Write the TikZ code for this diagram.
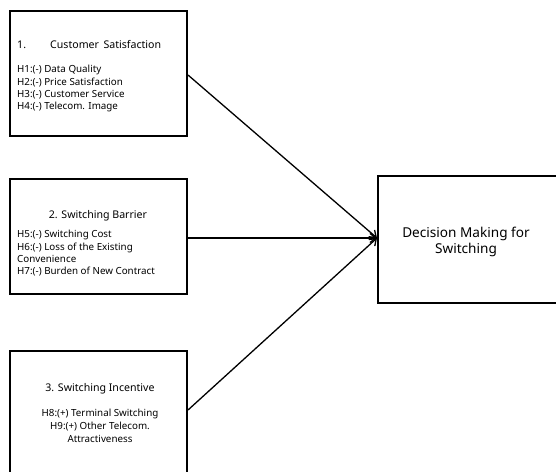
\documentclass[tikz,border=0pt]{standalone}
\usepackage{fontspec}
\setmainfont{Noto Sans}
\usetikzlibrary{arrows.meta,calc}
\begin{document}
\begin{tikzpicture}[x=1pt,y=-1pt,
  box/.style={draw,line width=2pt,rectangle,inner sep=0pt,anchor=north west},
  conn/.style={line width=1.3pt,-{Straight Barb[length=6pt,width=9pt,line width=1.3pt]}},
  small/.style={font=\fontsize{9.8}{12.4}\selectfont,inner sep=0pt},
  title/.style={font=\fontsize{10.6}{12}\selectfont,inner sep=0pt}]
\useasboundingbox (0,0) rectangle (556,471);
\clip (0,0) rectangle (556,471);
\node[box,minimum width=177pt,minimum height=125pt] (b1) at (9,10) {};
\node[box,minimum width=177pt,minimum height=115pt] (b2) at (9,178) {};
\node[box,minimum width=177pt,minimum height=124pt] (b3) at (9,350) {};
\node[box,minimum width=180pt,minimum height=127pt] (dm) at (377,175) {};
% box 1 text
\node[title,anchor=west] (t1n) at (17,44.5) {1.};
\node[title,anchor=west] (t1) at (50,44.5) {Customer\, Satisfaction};
\node[small,anchor=north west,align=left] (h1) at (17,65) {H1:(-) Data Quality\\H2:(-) Price Satisfaction\\H3:(-) Customer Service\\H4:(-) Telecom. Image};
% box 2 text
\node[title] (t2) at (98,216) {2. Switching Barrier};
\node[small,anchor=north west,align=left] (h2) at (17,230) {H5:(-) Switching Cost\\H6:(-) Loss of the Existing\\Convenience\\H7:(-) Burden of New Contract};
% box 3 text
\node[title] (t3) at (100,388.5) {3. Switching Incentive};
\node[small,anchor=north,align=center,font=\fontsize{9.8}{13}\selectfont] (h3) at (100,408.5) {H8:(+) Terminal Switching\\H9:(+) Other Telecom.\\Attractiveness};
% target text
\node[font=\fontsize{13.6}{16}\selectfont,align=center,inner sep=0pt] (dmt) at (466,242) {Decision Making for\\Switching};
% connectors
\coordinate (tip) at (377,238);
\draw[conn] ([yshift=-1.5pt]b1.east) -- (tip);
\draw[conn] (b2.east |- tip) -- (tip);
\draw[conn] ([yshift=3pt]b3.east) -- (tip);
\end{tikzpicture}
\end{document}
